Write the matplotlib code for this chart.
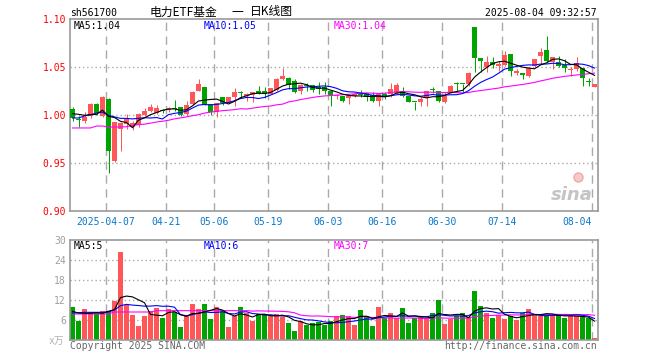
import matplotlib
matplotlib.use("Agg")
import matplotlib.pyplot as plt
import numpy as np
import pandas as pd

# ---------------- data ----------------
start_date = "2025-03-27"
end_date = "2025-08-04"
holidays = ["2025-04-04", "2025-05-01", "2025-05-02", "2025-05-05", "2025-06-02"]

opens = [1.006, 0.996, 0.9935, 0.999, 1.0115, 0.999, 1.017, 0.9525, 0.985, 0.991,
         0.9875, 0.9892, 0.9995, 1.004, 1.002, 1.0056, 1.0049, 1.0065, 1.0083, 1.001,
         1.0115, 1.0253, 1.0292, 1.0115, 1.0028, 1.0184, 1.0125, 1.0184, 1.0233, 1.0201,
         1.0208, 1.0247, 1.0253, 1.022, 1.026, 1.0375, 1.0389, 1.035, 1.0253, 1.0306,
         1.0313, 1.0288, 1.0288, 1.0253, 1.0201, 1.0201, 1.0174, 1.0194, 1.0229, 1.0229,
         1.0208, 1.0149, 1.0219, 1.0219, 1.0229, 1.0253, 1.0194, 1.0139, 1.0132, 1.0174,
         1.0271, 1.0253, 1.0139, 1.0229, 1.0323, 1.0323, 1.0323, 1.092, 1.0594, 1.0497,
         1.0556, 1.0514, 1.052, 1.0635, 1.0434, 1.0437, 1.0403, 1.0514, 1.0611, 1.0677,
         1.0549, 1.0549, 1.052, 1.047, 1.0479, 1.0486, 1.0347, 1.0295]
highs = [1.008, 0.999, 1.003, 1.012, 1.012, 1.0195, 1.018, 0.993, 0.9925, 1.0014,
         0.994, 1.002, 1.0075, 1.011, 1.010, 1.006, 1.008, 1.0156, 1.0083, 1.015,
         1.025, 1.0375, 1.0292, 1.0115, 1.0125, 1.0184, 1.0184, 1.0278, 1.0253, 1.0225,
         1.0243, 1.030, 1.029, 1.028, 1.0385, 1.0486, 1.040, 1.037, 1.0323, 1.0333,
         1.0313, 1.034, 1.034, 1.0253, 1.0219, 1.0201, 1.021, 1.0219, 1.0264, 1.0229,
         1.0236, 1.0219, 1.0236, 1.0333, 1.0333, 1.0288, 1.0201, 1.0139, 1.0184, 1.0253,
         1.0288, 1.0253, 1.0236, 1.031, 1.0347, 1.0323, 1.0451, 1.092, 1.0594, 1.061,
         1.0601, 1.0566, 1.067, 1.0635, 1.0476, 1.0437, 1.0497, 1.0583, 1.0694, 1.082,
         1.060, 1.0611, 1.0583, 1.0497, 1.0601, 1.0486, 1.0382, 1.0323]
lows = [0.994, 0.988, 0.992, 0.997, 1.000, 0.9975, 0.9396, 0.951, 0.963, 0.985,
        0.9845, 0.987, 0.999, 1.003, 1.001, 1.002, 1.003, 1.0045, 0.9986, 0.9986,
        1.010, 1.025, 1.010, 1.000, 0.998, 1.010, 1.0125, 1.0097, 1.0184, 1.015,
        1.0139, 1.0219, 1.018, 1.022, 1.025, 1.0368, 1.027, 1.0226, 1.0219, 1.0253,
        1.0236, 1.0219, 1.0219, 1.0097, 1.0167, 1.0132, 1.0115, 1.0184, 1.019, 1.0149,
        1.0132, 1.009, 1.0167, 1.0184, 1.0219, 1.0184, 1.0139, 1.0056, 1.009, 1.009,
        1.0229, 1.0132, 1.012, 1.0229, 1.0253, 1.0243, 1.0306, 1.0444, 1.0451, 1.0444,
        1.0486, 1.0455, 1.0514, 1.041, 1.0417, 1.0375, 1.0392, 1.0497, 1.0531, 1.0556,
        1.0479, 1.0497, 1.0451, 1.0403, 1.0462, 1.0306, 1.0299, 1.0295]
closes = [0.997, 0.995, 0.998, 1.0115, 1.002, 1.019, 0.962, 0.9925, 0.9915, 0.996,
          0.9917, 1.0014, 1.0045, 1.008, 1.007, 1.0038, 1.0073, 1.006, 1.000, 1.0104,
          1.0243, 1.0323, 1.0104, 1.0035, 1.0125, 1.0125, 1.0184, 1.0243, 1.0226, 1.0219,
          1.0236, 1.0219, 1.0219, 1.028, 1.038, 1.041, 1.0313, 1.0243, 1.0313, 1.0302,
          1.0264, 1.0271, 1.0253, 1.0208, 1.0208, 1.0149, 1.0208, 1.0219, 1.0208, 1.0184,
          1.0149, 1.0219, 1.0184, 1.0271, 1.0313, 1.0201, 1.0139, 1.0132, 1.0167, 1.0253,
          1.026, 1.0142, 1.0194, 1.0306, 1.032, 1.0318, 1.0434, 1.0594, 1.0566, 1.0556,
          1.0524, 1.0531, 1.0625, 1.0462, 1.0455, 1.042, 1.0486, 1.0583, 1.066, 1.0566,
          1.060, 1.0514, 1.0486, 1.0472, 1.0542, 1.0382, 1.0345, 1.0323]
volumes = [9.8, 5.6, 9.2, 8.3, 8.1, 8.8, 8.8, 11.6, 26.3, 10.4,
           7.6, 4.3, 7.3, 8.6, 9.5, 6.7, 9.2, 8.5, 4.0, 7.1,
           10.9, 9.2, 10.9, 6.4, 9.8, 8.6, 4.0, 7.1, 9.8, 8.0,
           5.6, 7.7, 7.7, 7.4, 7.7, 6.8, 5.0, 2.6, 5.6, 4.4,
           5.0, 5.3, 4.4, 5.6, 7.1, 7.6, 7.3, 4.6, 8.9, 7.3,
           4.3, 9.8, 6.5, 8.2, 6.5, 9.5, 5.2, 6.5, 6.9, 6.3,
           8.2, 11.9, 4.9, 6.2, 7.2, 8.2, 6.9, 14.6, 10.3, 8.2,
           6.5, 7.5, 6.2, 7.2, 5.9, 8.2, 9.2, 7.5, 7.2, 7.5,
           7.5, 7.5, 6.5, 7.2, 7.2, 6.9, 6.5, 0.5]

price_ma5_head = [1.0014, 1.0007, 0.9997, 1.0003]
price_ma10_head = [0.9969, 0.9969, 0.999, 1.0003, 1.002, 1.003, 0.9997, 0.998, 0.9965]
price_ma30_head = [0.9865, 0.9865, 0.9865, 0.9865, 0.9885, 0.9885, 0.9875, 0.9875, 0.9875, 0.9878,
                   0.989, 0.990, 0.9905, 0.9915, 0.9927, 0.9935, 0.9945, 0.996, 0.997, 0.998,
                   0.9993, 1.0003, 1.002, 1.003, 1.0038, 1.0045, 1.005, 1.0056, 1.0065]
vol_ma5_head = [8.6, 8.1, 8.0, 8.0]
vol_ma10_head = [8.1, 8.2, 8.3, 8.3, 8.3, 8.3, 8.4, 9.0, 10.3]
vol_ma30_head = [7.8, 7.8, 7.8, 7.8, 7.8, 7.8, 7.8, 8.4, 8.4, 8.4,
                 8.4, 8.4, 8.4, 8.4, 8.8, 8.8, 8.8, 8.8, 8.8, 8.8,
                 8.8, 8.8, 8.8, 8.8, 8.8, 8.8, 8.8, 8.8, 8.8]

tick_dates = ["2025-04-07", "2025-04-21", "2025-05-06", "2025-05-19", "2025-06-03",
              "2025-06-16", "2025-06-30", "2025-07-14", "2025-08-04"]
tick_labels = ["2025-04-07", "04-21", "05-06", "05-19", "06-03", "06-16", "06-30", "07-14", "08-04"]

price_ticks = [0.90, 0.95, 1.00, 1.05, 1.10]
vol_ticks = [6, 12, 18, 24, 30]

code = "sh561700"
title_parts = ["电力ETF基金", "一", "日K线图"]
stamp = "2025-08-04 09:32:57"

# ---------------- helpers ----------------
W, H = 660, 360
RED = "#ff5757"
GREEN = "#00a400"
GRID = "#aaaaaa"
FRAME = "#999999"
LW1 = 0.72  # one pixel

plt.rcParams['font.family'] = ['DejaVu Sans Mono', 'Noto Sans CJK SC']

dates = pd.bdate_range(start_date, end_date, freq="C", holidays=holidays)
n = len(dates)
idx = np.arange(n)
date_strs = [d.strftime("%Y-%m-%d") for d in dates]
tick_idx = [date_strs.index(d) for d in tick_dates]


def moving(values, win, head):
    s = pd.Series(values, dtype=float).rolling(win).mean().to_numpy()
    s[:len(head)] = head
    return s


o = np.array(opens); h = np.array(highs); l = np.array(lows); c = np.array(closes)
v = np.array(volumes)
up = c >= o
colors = np.where(up, RED, GREEN)

fig = plt.figure(figsize=(W / 100, H / 100), dpi=100)
fig.patch.set_facecolor("white")


def px_axes(x0, y0, x1, y1):
    return fig.add_axes([x0 / W, 1 - y1 / H, (x1 - x0) / W, (y1 - y0) / H])


def ftext(x, y, s, **kw):
    fig.text(x / W, 1 - y / H, s, **kw)


BODY = 5 / 6
CEN = 2.5 / 6
MALW = 0.8

# ---------------- price panel ----------------
ax = px_axes(70, 19, 598, 211)
ax.set_xlim(0, n)
ax.set_ylim(price_ticks[0], price_ticks[-1])
for y in price_ticks[1:-1]:
    ax.axhline(y, color=GRID, lw=1.0, ls=(0, (1, 2)), zorder=0)
for ti in tick_idx:
    ax.axvline(ti, color=GRID, lw=1.0, ls=(0, (6, 4)), zorder=0)

ax.vlines(idx + CEN, l, h, colors=colors, lw=LW1, zorder=2)
body_h = np.maximum(np.abs(c - o), 0.0011)
ax.bar(idx, body_h, bottom=np.minimum(o, c), width=BODY, align="edge",
       color=colors, edgecolor="none", lw=0, zorder=3)

ma5 = moving(c, 5, price_ma5_head)
ma10 = moving(c, 10, price_ma10_head)
ma30 = moving(c, 30, price_ma30_head)
ax.plot(idx + CEN, ma30, color="#ff00ff", lw=MALW, zorder=4)
ax.plot(idx + CEN, ma10, color="#0000ff", lw=MALW, zorder=5)
ax.plot(idx + CEN, ma5, color="#000000", lw=MALW, zorder=6)

ax.set_xticks([]); ax.set_yticks([])
for sp in ax.spines.values():
    sp.set_color(FRAME); sp.set_linewidth(1.2)

# sina watermark
ax.text(0.99, 0.035, "sina", transform=ax.transAxes, ha="right", va="bottom",
        fontsize=13, fontweight="bold", style="italic", color="#c4c4c4",
        family="DejaVu Sans", zorder=1)
ax.plot([0.962], [0.175], transform=ax.transAxes, marker="o", ms=6.5,
        color="#f6caca", mec="#f0a8a8", zorder=1)

# ---------------- volume panel ----------------
av = px_axes(70, 240, 598, 340)
av.set_xlim(0, n)
av.set_ylim(0, vol_ticks[-1])
for y in vol_ticks[:-1]:
    av.axhline(y, color=GRID, lw=1.0, ls=(0, (1, 2)), zorder=0)
for ti in tick_idx:
    av.axvline(ti, color=GRID, lw=1.0, ls=(0, (6, 4)), zorder=0)
av.bar(idx, v, width=BODY, align="edge", color=colors, edgecolor="none", lw=0, zorder=2)
vma5 = moving(v, 5, vol_ma5_head)
vma10 = moving(v, 10, vol_ma10_head)
vma30 = moving(v, 30, vol_ma30_head)
av.plot(idx + CEN, vma30, color="#ff00ff", lw=MALW, zorder=4)
av.plot(idx + CEN, vma10, color="#0000ff", lw=MALW, zorder=5)
av.plot(idx + CEN, vma5, color="#000000", lw=MALW, zorder=6)
av.set_xticks([]); av.set_yticks([])
for sp in av.spines.values():
    sp.set_color(FRAME); sp.set_linewidth(1.2)

# ---------------- texts ----------------
FS = 7
CJK = ["Noto Sans CJK SC", "DejaVu Sans"]
ftext(70, 13, code, fontsize=FS, color="black", ha="left", va="center")
ftext(150, 12, title_parts[0], fontsize=8.5, color="black", ha="left", va="center", family=CJK)
ftext(232, 12, title_parts[1], fontsize=8.5, color="black", ha="left", va="center", family=CJK)
ftext(250, 12, title_parts[2], fontsize=8.5, color="black", ha="left", va="center", family=CJK)
ftext(597, 13, stamp, fontsize=FS, color="black", ha="right", va="center")

ftext(74, 26, f"MA5:{ma5[-1]:.2f}", fontsize=FS, color="black", ha="left", va="center")
ftext(204, 26, f"MA10:{ma10[-1]:.2f}", fontsize=FS, color="#0000ff", ha="left", va="center")
ftext(334, 26, f"MA30:{ma30[-1]:.2f}", fontsize=FS, color="#ff00ff", ha="left", va="center")

for p in price_ticks:
    ypx = 19 + (price_ticks[-1] - p) / (price_ticks[-1] - price_ticks[0]) * 192
    ftext(66, ypx + 1, f"{p:.2f}", fontsize=FS, color="#ff0000", ha="right", va="center")

for ti, lab in zip(tick_idx, tick_labels):
    xpx = 70 + 6 * ti
    if ti == n - 1:
        ftext(592, 222, lab, fontsize=FS, color="#0a78c8", ha="right", va="center")
    else:
        ftext(xpx, 222, lab, fontsize=FS, color="#0a78c8", ha="center", va="center")

ftext(74, 246, f"MA5:{int(vma5[-1])}", fontsize=FS, color="black", ha="left", va="center")
ftext(204, 246, f"MA10:{int(vma10[-1])}", fontsize=FS, color="#0000ff", ha="left", va="center")
ftext(334, 246, f"MA30:{int(vma30[-1])}", fontsize=FS, color="#ff00ff", ha="left", va="center")

for t in vol_ticks:
    ypx = 240 + (vol_ticks[-1] - t) / vol_ticks[-1] * 100
    ftext(66, ypx + 1, f"{t}", fontsize=FS, color="#a0a0a0", ha="right", va="center")
ftext(64, 341, "x万", fontsize=FS, color="#b0b0b0", ha="right", va="center",
      family=["DejaVu Sans Mono", "Noto Sans CJK SC"])

ftext(70, 346, "Copyright 2025 SINA.COM", fontsize=FS, color="#666666", ha="left", va="center")
ftext(597, 346, "http://finance.sina.com.cn", fontsize=FS, color="#666666", ha="right", va="center")

fig.savefig("out.png", dpi=100, facecolor="white")
